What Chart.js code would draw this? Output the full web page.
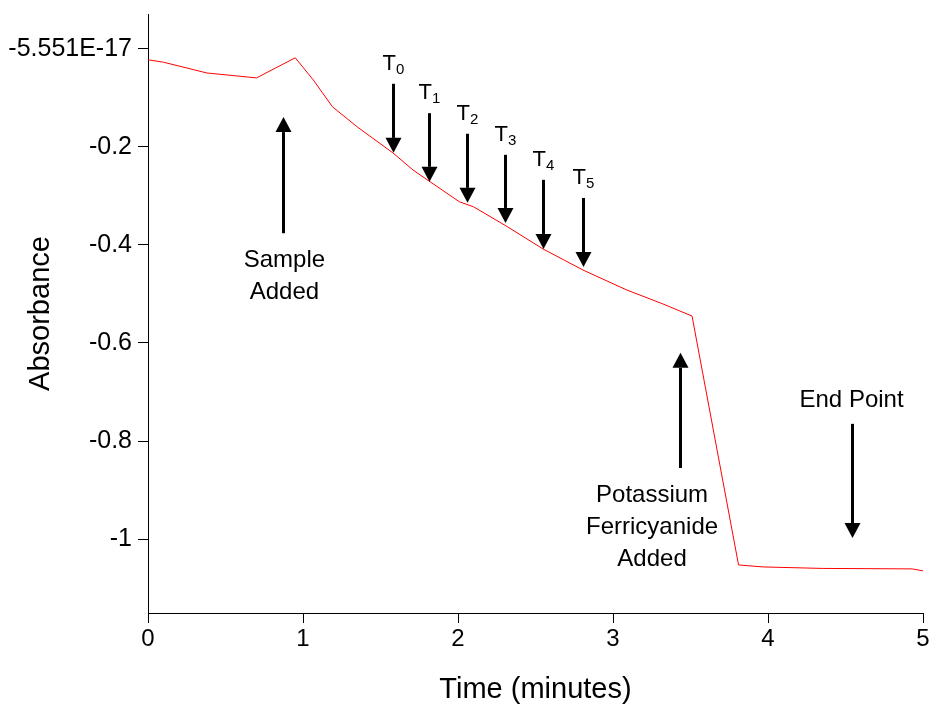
<!DOCTYPE html>
<html>
<head>
<meta charset="utf-8">
<script src="https://cdn.jsdelivr.net/npm/chart.js@4.4.0/dist/chart.umd.min.js"></script>
<style>
  body { margin: 0; background: #fff; }
  #chart { display: block; }
</style>
</head>
<body>
<canvas id="chart" width="932" height="710"></canvas>
<script>
const FONT = "'Liberation Sans', Arial, sans-serif";

// trace
const timeValues = [0, 0.1, 0.38, 0.7, 0.95, 1.066, 1.19, 1.35, 1.58, 1.71, 1.82, 2.01, 2.1, 2.32, 2.548, 2.806, 3.09, 3.32, 3.51, 3.81, 3.97, 4.35, 4.93, 5.0];
const absorbance = [-0.022, -0.027, -0.049, -0.059, -0.018, -0.063, -0.118, -0.159, -0.212, -0.247, -0.271, -0.312, -0.322, -0.363, -0.408, -0.451, -0.492, -0.52, -0.545, -1.053, -1.057, -1.06, -1.061, -1.065];

const xTicks = [0, 1, 2, 3, 4, 5];
const yTicks = [0, -0.2, -0.4, -0.6, -0.8, -1];
const yTickLabels = ["-5.551E-17", "-0.2", "-0.4", "-0.6", "-0.8", "-1"];

// T0..T5 sampling arrows
const markerTimes = [1.58, 1.813, 2.058, 2.303, 2.548, 2.806];
const markerTails = [-0.071, -0.131, -0.173, -0.216, -0.267, -0.304];
const markerHeads = [-0.212, -0.271, -0.314, -0.355, -0.408, -0.445];
const markerSubs = ["0", "1", "2", "3", "4", "5"];

// event arrows
const eventTimes = [0.871, 3.432, 4.542];
const eventTails = [-0.376, -0.855, -0.765];
const eventHeads = [-0.139, -0.62, -0.998];
const eventLabelTimes = [0.88, 3.252, 4.539];
const eventLabels = [["Sample", "Added"], ["Potassium", "Ferricyanide", "Added"], ["End Point"]];

const points = timeValues.map((t, i) => ({ x: t, y: absorbance[i] }));

const drawArrow = (ctx, x, y1, y2) => {
  const dir = y2 > y1 ? 1 : -1;
  const head = 15;
  ctx.strokeStyle = "#000";
  ctx.fillStyle = "#000";
  ctx.lineWidth = 3;
  ctx.beginPath();
  ctx.moveTo(x, y1);
  ctx.lineTo(x, y2 - dir * head);
  ctx.stroke();
  ctx.beginPath();
  ctx.moveTo(x, y2);
  ctx.lineTo(x - 8, y2 - dir * head);
  ctx.lineTo(x + 8, y2 - dir * head);
  ctx.closePath();
  ctx.fill();
};

const notes = {
  id: "notes",
  afterDatasetsDraw(chart) {
    const ctx = chart.ctx;
    const xs = chart.scales.x;
    const ys = chart.scales.y;
    ctx.save();
    ctx.textBaseline = "alphabetic";

    markerTimes.forEach((t, i) => {
      const px = Math.round(xs.getPixelForValue(t)) + 0.5;
      const tail = ys.getPixelForValue(markerTails[i]);
      const headY = ys.getPixelForValue(markerHeads[i]);
      drawArrow(ctx, px, tail, headY);
      ctx.font = "22px " + FONT;
      const wT = ctx.measureText("T").width;
      ctx.font = "15px " + FONT;
      const wS = ctx.measureText(markerSubs[i]).width;
      const left = px - (wT + wS) / 2;
      ctx.fillStyle = "#000";
      ctx.textAlign = "left";
      ctx.font = "22px " + FONT;
      ctx.fillText("T", left, tail - 14);
      ctx.font = "15px " + FONT;
      ctx.fillText(markerSubs[i], left + wT, tail - 10);
    });

    eventTimes.forEach((t, i) => {
      const px = Math.round(xs.getPixelForValue(t)) + 0.5;
      const tail = ys.getPixelForValue(eventTails[i]);
      const headY = ys.getPixelForValue(eventHeads[i]);
      drawArrow(ctx, px, tail, headY);
      const lx = xs.getPixelForValue(eventLabelTimes[i]);
      const lines = eventLabels[i];
      ctx.font = "24px " + FONT;
      ctx.textAlign = "center";
      ctx.fillStyle = "#000";
      if (headY < tail) {
        lines.forEach((s, k) => ctx.fillText(s, lx, tail + 34 + k * 32));
      } else {
        lines.slice().reverse().forEach((s, k) => ctx.fillText(s, lx, tail - 17 - k * 32));
      }
    });
    ctx.restore();
  },
};

new Chart(document.getElementById("chart"), {
  type: "scatter",
  data: {
    datasets: [
      {
        data: points,
        showLine: true,
        borderColor: "rgb(255, 0, 0)",
        borderWidth: 1,
        pointRadius: 0,
        tension: 0,
      },
    ],
  },
  options: {
    responsive: false,
    animation: false,
    devicePixelRatio: 1,
    layout: { padding: { top: 14, right: 9, left: 0, bottom: 0 } },
    plugins: {
      legend: { display: false },
      tooltip: { enabled: false },
    },
    scales: {
      x: {
        type: "linear",
        min: 0,
        max: 5,
        afterBuildTicks: (s) => { s.ticks = xTicks.map((v) => ({ value: v })); },
        afterFit: (s) => {
          s.height = 97;
          s.paddingLeft = 0;
          s.paddingRight = 0;
        },
        grid: { drawOnChartArea: false, tickLength: 10, color: "#000", tickWidth: 1 },
        border: { color: "#000", width: 1 },
        ticks: {
          color: "#000",
          font: { family: FONT, size: 24 },
          padding: 2,
          maxRotation: 0,
          autoSkip: false,
        },
        title: {
          display: true,
          text: "Time (minutes)",
          color: "#000",
          font: { family: FONT, size: 29 },
          padding: { top: 0, bottom: 3 },
        },
      },
      y: {
        type: "linear",
        min: -1.151,
        max: 0.0714,
        afterBuildTicks: (s) => { s.ticks = yTicks.map((v) => ({ value: v })); },
        afterFit: (s) => {
          s.width = 148;
          s.paddingTop = 0;
          s.paddingBottom = 0;
        },
        grid: { drawOnChartArea: false, tickLength: 10, color: "#000", tickWidth: 1 },
        border: { color: "#000", width: 1 },
        ticks: {
          color: "#000",
          font: { family: FONT, size: 25 },
          padding: 6,
          autoSkip: false,
          callback: (v, i) => yTickLabels[i],
        },
        title: {
          display: true,
          text: "Absorbance",
          color: "#000",
          font: { family: FONT, size: 29 },
          padding: { top: 24, bottom: 0 },
        },
      },
    },
  },
  plugins: [notes],
});
</script>
</body>
</html>
